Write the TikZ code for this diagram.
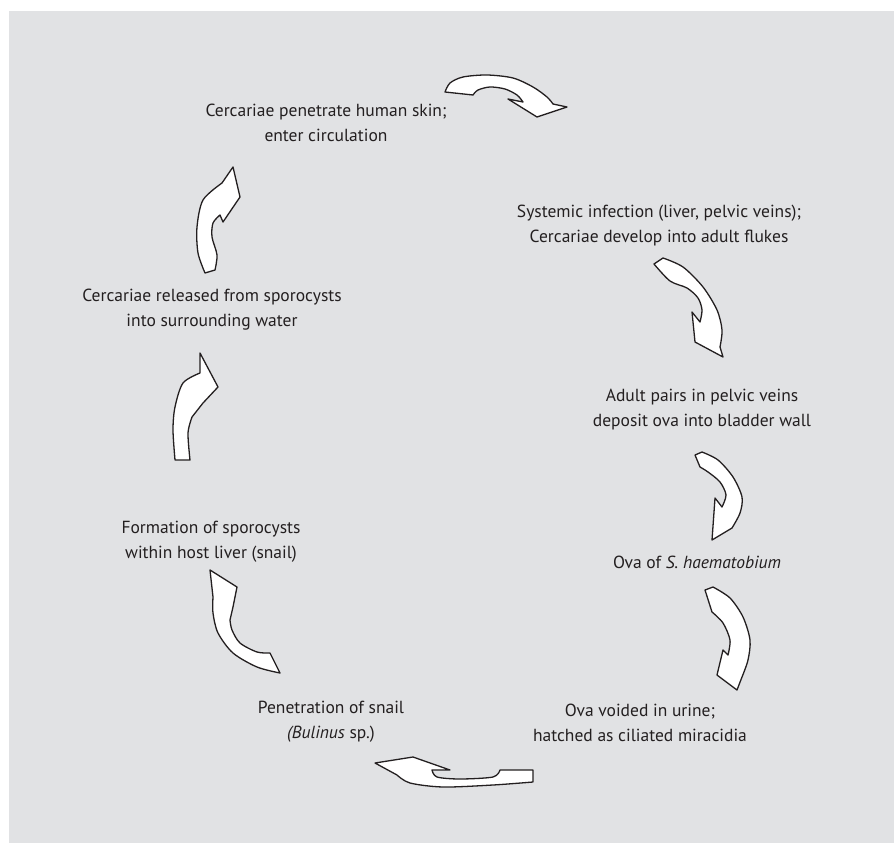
\documentclass[tikz,border=0pt]{standalone}
\usepackage{fontspec}
\setmainfont{PT Sans}
\definecolor{bg}{RGB}{225,226,228}
\definecolor{ink}{RGB}{35,31,32}
\begin{document}
\begin{tikzpicture}[x=1pt,y=-1pt,
  lbl/.style={align=center, font=\fontsize{17.5}{25}\selectfont, text=ink, inner sep=0pt},
  arr/.style={draw=ink, fill=white, line width=1.3pt, line join=round}]
\useasboundingbox (0,0) rectangle (894,843);
\fill[bg] (9,11) rectangle (894,843);

\node[lbl] (t1) at (326,123) {Cercariae penetrate human skin;\\enter circulation};
\node[lbl] (t2) at (659,226) {Systemic infection (liver, pelvic veins);\\Cercariae develop into adult flukes};
\node[lbl] (t3) at (702,410) {Adult pairs in pelvic veins\\deposit ova into bladder wall};
\node[lbl] (t4) at (697,562) {Ova of \textit{S. haematobium}};
\node[lbl] (t5) at (640,723) {Ova voided in urine;\\hatched as ciliated miracidia};
\node[lbl] (t6) at (331,722) {Penetration of snail\\\textit{(Bulinus} sp.)};
\node[lbl] (t7) at (211,542) {Formation of sporocysts\\within host liver (snail)};
\node[lbl] (t8) at (212,310) {Cercariae released from sporocysts\\into surrounding water};

% A1 top
\draw[arr] plot[smooth] coordinates {(445,92) (450,83) (463,77) (487,75) (513,78) (533,87) (547,97) (553,104)}
  -- (567,107) -- (537,117) -- (508,99)
  -- plot[smooth] coordinates {(523,102) (517,95) (505,89) (490,87) (478,90) (473,95)} -- cycle;
% A2
\draw[arr] plot[smooth] coordinates {(663,258) (683,267) (703,287) (717,310) (722,330) (720,347)}
  -- (723,357) -- (695,342) -- (692,312)
  -- plot[smooth] coordinates {(700,322) (702,310) (698,298) (687,288) (670,281) (654,264)} -- cycle;
% A3
\draw[arr] plot[smooth] coordinates {(702,452) (718,460) (733,477) (742,497) (740,513) (732,528)}
  -- (712,540) -- (715,498)
  -- plot[smooth] coordinates {(722,507) (726,495) (720,482) (708,472) (700,467)} -- (695,455) -- cycle;
% A4
\draw[arr] plot[smooth] coordinates {(713,587) (730,598) (743,617) (750,640) (748,660) (742,677)}
  -- (737,690) -- (717,675) -- (723,650)
  -- plot[smooth] coordinates {(728,655) (730,640) (723,623) (712,612)} -- (705,590) -- cycle;
% A5 bottom
\draw[arr] plot[smooth] coordinates {(533,782) (493,785) (443,787) (410,783) (397,775)}
  -- (375,763) -- (413,757) -- (450,770)
  -- plot[smooth] coordinates {(432,770) (437,777) (460,779) (493,777) (500,770)} -- (533,770) -- cycle;
% A6
\draw[arr] plot[smooth] coordinates {(280,673) (257,667) (233,653) (218,633) (213,613) (213,597)}
  -- (210,570) -- (237,587) -- (233,607)
  -- plot[smooth] coordinates {(230,620) (232,630) (240,643) (257,652) (270,653)} -- cycle;
% A7
\draw[arr] plot[smooth] coordinates {(175,460) (173,430) (175,407) (183,383) (200,373)}
  -- (200,353) -- (218,387) -- (203,403)
  -- plot[smooth] coordinates {(192,417) (188,433) (190,460)} -- cycle;
% A8
\draw[arr] plot[smooth] coordinates {(205,273) (198,253) (197,227) (203,200) (222,183)}
  -- (233,167) -- (240,197) -- (223,222)
  -- plot[smooth] coordinates {(220,215) (213,223) (212,237) (217,255) (215,270)} -- cycle;
\end{tikzpicture}
\end{document}
